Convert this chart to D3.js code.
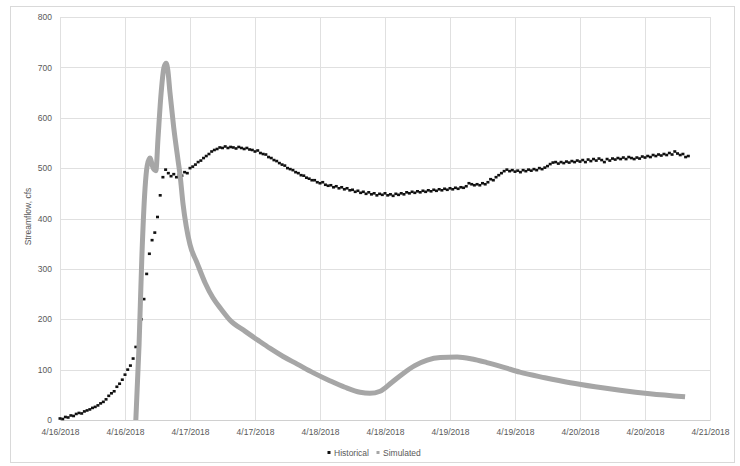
<!DOCTYPE html>
<html>
<head>
<meta charset="utf-8">
<script src="https://cdn.jsdelivr.net/npm/d3@7"></script>
<style>
body { margin: 0; background: #fff; }
svg text { font-family: "Liberation Sans", Arial, sans-serif; fill: #595959; }
</style>
</head>
<body>
<div id="chart"></div>
<script>
// axis range and ticks
var startDate = new Date(2018, 3, 16);
var endDate = new Date(2018, 3, 21);
var yTicks = [0, 100, 200, 300, 400, 500, 600, 700, 800];
var seriesNames = ["Historical", "Simulated"];

// historical flow, one reading every half hour from 4/16/2018 00:00
var histStepHours = 0.5;
var historical = [
  3, 2, 6, 5, 9, 8, 12, 14, 13, 17, 19, 21, 24, 26, 29, 33, 36, 41, 48, 53,
  57, 66, 72, 80, 90, 100, 108, 122, 145, 168, 200, 240, 290, 330, 357, 372, 403, 446, 482, 497,
  490, 484, 488, 482, 487, 485, 492, 490, 500, 503, 507, 512, 515, 520, 524, 528, 533, 536, 538, 541,
  540, 543, 540, 542, 541, 539, 542, 540, 538, 540, 537, 536, 533, 535, 530, 528, 527, 522, 520, 516,
  514, 510, 507, 505, 500, 498, 496, 492, 490, 486, 485, 481, 479, 476, 476, 472, 470, 472, 467, 465,
  466, 462, 464, 460, 462, 458, 460, 456, 457, 453, 455, 451, 453, 449, 452, 448, 450, 446, 449, 447,
  450, 446, 448, 445, 449, 447, 450, 448, 452, 450, 453, 451, 454, 452, 455, 453, 456, 454, 457, 455,
  458, 456, 459, 457, 460, 458, 461, 459, 462, 461, 464, 470, 468, 466, 468, 466, 470, 468, 472, 478,
  476, 482, 486, 490, 494, 497, 494, 496, 493, 495, 492, 496, 494, 497, 495, 498, 496, 500, 498, 501,
  504, 508, 511, 512, 509, 512, 510, 513, 511, 514, 512, 515, 513, 516, 512, 517, 514, 518, 515, 519,
  516, 512, 518, 515, 519, 517, 520, 518, 521, 518, 522, 520, 518, 521, 519, 523, 521, 524, 522, 526,
  524, 527, 525, 528, 526, 530, 527, 533, 529, 526, 528, 522, 524
];

// simulated flow, hours since 4/16/2018 00:00
var simHours = [
  14.0, 14.6, 15.1, 15.7, 16.1, 16.6, 17.2, 17.7, 18.1, 18.6, 19.2, 19.6, 19.9, 20.3, 21.0, 21.8,
  22.2, 22.7, 23.3, 24.0, 25.3, 26.8, 28.2, 29.9, 31.4, 34.2, 36.6, 38.8, 41.2, 43.8, 46.7, 49.8,
  52.6, 55.4, 57.2, 59.1, 61.3, 63.3, 65.5, 67.8, 70.2, 73.3, 76.1, 78.8, 81.8, 84.9, 89.5, 94.2,
  98.8, 103.4, 108.9, 115.4
];
var simFlow = [
  0, 150, 320, 460, 505, 520, 500, 495, 560, 640, 700, 708, 695, 650, 580, 515,
  483, 430, 385, 348, 312, 272, 243, 218, 198, 176, 158, 142, 126, 111, 94, 78,
  65, 55, 53, 57, 75, 92, 108, 119, 124, 125, 121, 114, 105, 95, 84, 74,
  66, 59, 52, 46
];

var margin = {top: 17, right: 30, bottom: 46, left: 60},
    width = 740 - margin.left - margin.right,
    height = 466 - margin.top - margin.bottom;

var root = d3.select("#chart").append("svg")
    .attr("width", 740)
    .attr("height", 466);

// chart border
root.append("rect")
    .attr("x", 10.5).attr("y", 6.5)
    .attr("width", 724).attr("height", 456)
    .attr("fill", "none")
    .attr("stroke", "#d9d9d9");

var svg = root.append("g")
    .attr("transform", "translate(" + margin.left + "," + margin.top + ")");

var x = d3.scaleTime()
    .domain([startDate, endDate])
    .range([0, width]);
var y = d3.scaleLinear()
    .domain([0, 800])
    .range([height, 0]);

var xTicks = d3.timeHour.every(12).range(startDate, d3.timeHour.offset(endDate, 1));
var fmt = d3.timeFormat("%-m/%-d/%Y");

// gridlines
svg.append("g").selectAll("line")
    .data(yTicks)
    .enter().append("line")
    .attr("x1", 0).attr("x2", width)
    .attr("y1", function(d) { return Math.round(y(d)) + 0.5; })
    .attr("y2", function(d) { return Math.round(y(d)) + 0.5; })
    .attr("stroke", "#e0e0e0");
svg.append("g").selectAll("line")
    .data(xTicks)
    .enter().append("line")
    .attr("y1", 0).attr("y2", height)
    .attr("x1", function(d) { return Math.round(x(d)) + 0.5; })
    .attr("x2", function(d) { return Math.round(x(d)) + 0.5; })
    .attr("stroke", "#e0e0e0");

// axes
var xAxis = svg.append("g")
    .attr("transform", "translate(0," + height + ")")
    .call(d3.axisBottom(x).tickValues(xTicks).tickFormat(fmt).tickSize(0).tickPadding(9));
xAxis.select(".domain").attr("stroke", "#d0d0d0");
xAxis.selectAll("text").style("font-size", "8.5px");

var yAxis = svg.append("g")
    .call(d3.axisLeft(y).tickValues(yTicks).tickSize(0).tickPadding(8));
yAxis.select(".domain").remove();
yAxis.selectAll("text").style("font-size", "8.5px");

// y axis title
svg.append("text")
    .attr("transform", "rotate(-90)")
    .attr("x", -height / 2 + 2)
    .attr("y", -29)
    .style("text-anchor", "middle")
    .style("font-size", "8.5px")
    .text("Streamflow, cfs");

// historical dots
var histData = historical.map(function(v, i) {
    return {t: d3.timeMinute.offset(startDate, i * histStepHours * 60), v: v};
});
svg.append("g").selectAll("rect")
    .data(histData)
    .enter().append("rect")
    .attr("x", function(d) { return x(d.t) - 1.5; })
    .attr("y", function(d) { return y(d.v) - 1.3; })
    .attr("width", 3)
    .attr("height", 2.6)
    .attr("fill", "#111");

// simulated line
var simData = simHours.map(function(h, i) {
    return {t: d3.timeMinute.offset(startDate, Math.round(h * 60)), v: simFlow[i]};
});
svg.append("path")
    .datum(simData)
    .attr("fill", "none")
    .attr("stroke", "#a6a6a6")
    .attr("stroke-width", 5)
    .attr("stroke-linejoin", "round")
    .attr("d", d3.line()
        .x(function(d) { return x(d.t); })
        .y(function(d) { return y(d.v); })
        .curve(d3.curveMonotoneX));

// legend
var legend = root.append("g").attr("transform", "translate(329,453)");
var colors = ["#111", "#a6a6a6"];
var offsets = [0, 49];
seriesNames.forEach(function(name, i) {
    legend.append("rect")
        .attr("x", offsets[i] - 1.5).attr("y", -2)
        .attr("width", 3).attr("height", 3)
        .attr("fill", colors[i]);
    legend.append("text")
        .attr("x", offsets[i] + 5)
        .attr("y", 3)
        .style("font-size", "8.5px")
        .text(name);
});
</script>
</body>
</html>
